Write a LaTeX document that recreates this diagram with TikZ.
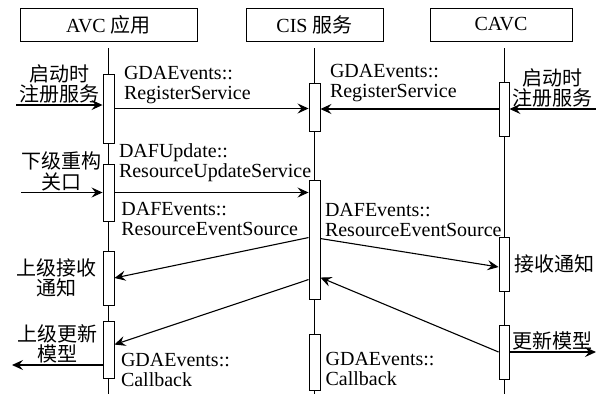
\documentclass[tikz,border=0pt]{standalone}
\usepackage{fontspec}
\setmainfont{Liberation Serif}
\newfontfamily\cjk{Noto Sans CJK SC}
\usetikzlibrary{positioning, arrows.meta}

\begin{document}
\begin{tikzpicture}[
  x=1pt, y=-1pt,
  every node/.style={font=\fontsize{20}{20}\selectfont},
  head/.style={rectangle, draw, line width=0.9pt, minimum height=33pt, inner sep=0pt},
  act/.style={rectangle, draw, fill=white, line width=0.9pt, minimum width=11pt, inner sep=0pt},
  life/.style={line width=0.9pt},
  msg/.style={-{Stealth[length=11pt, width=10pt, inset=4pt]}, line width=1.1pt},
  lab/.style={inner sep=1pt, align=left},
  note/.style={inner sep=1pt, align=center, font=\fontsize{20}{20.5}\selectfont\cjk},
]
\useasboundingbox (0,0) rectangle (596,394);

% participants
\node[head, minimum width=177pt] (avc) at (108.5,24.5) {AVC {\cjk 应用}};
\node[head, minimum width=137pt] (cis) at (314.5,24.5) {CIS {\cjk 服务}};
\node[head, minimum width=142pt] (cavc) at (501,24.5) {CAVC};

% lifelines
\coordinate (avcTop) at (108.5,48);
\coordinate (avcEnd) at (108.5,394);
\coordinate (cisTop) at (314.5,48);
\coordinate (cisEnd) at (314.5,394);
\coordinate (cavcTop) at (504,48);
\coordinate (cavcEnd) at (504,394);
\draw[life] (avcTop) -- (avcEnd);
\draw[life] (cisTop) -- (cisEnd);
\draw[life] (cavcTop) -- (cavcEnd);

% activation boxes
\node[act, minimum height=69pt] (a1) at (108.5,108.5) {};
\node[act, minimum height=57pt] (a2) at (108.5,192.5) {};
\node[act, minimum height=54pt] (a3) at (108.5,278) {};
\node[act, minimum height=57pt] (a4) at (108.5,349.5) {};
\node[act, minimum height=48pt] (c1) at (314.5,107) {};
\node[act, minimum height=119pt] (c2) at (314.5,239.5) {};
\node[act, minimum height=56pt] (c3) at (314.5,362) {};
\node[act, minimum width=10pt, minimum height=54pt] (v1) at (504,109) {};
\node[act, minimum width=10pt, minimum height=54pt] (v2) at (504,264) {};
\node[act, minimum width=10pt, minimum height=54pt] (v3) at (504,352) {};

% free ends
\coordinate (inA1) at (16,105);
\coordinate (inV1) at (596,109);
\coordinate (inA2) at (21,192.5);
\coordinate (outA4) at (12,365);
\coordinate (outV3) at (596,352);

% registration
\draw[msg] (inA1) -- node[note, above] (n1) {启动时\\注册服务} (inA1 -| a1.west);
\draw[msg] (a1.east) -- node[lab, pos=0, anchor=south west, xshift=8pt, yshift=3pt] (m1) {GDAEvents::\\RegisterService} (a1.east -| c1.west);
\draw[msg] (v1.west) -- node[lab, pos=1, anchor=south west, xshift=8pt, yshift=6pt] (m2) {GDAEvents::\\RegisterService} (v1.west -| c1.east);
\draw[msg] (inV1) -- node[note, above] (n2) {启动时\\注册服务} (inV1 -| v1.east);

% resource update
\draw[msg] (inA2) -- node[note, above] (n3) {下级重构\\关口} (inA2 -| a2.west);
\draw[msg] (a2.east) -- node[lab, pos=0, anchor=south west, xshift=3pt, yshift=9pt] (m3) {DAFUpdate::\\ResourceUpdateService} (a2.east -| c2.west);

% event source notifications
\draw[msg] ([yshift=-58pt]c2.north west) -- node[lab, pos=0, anchor=south east, xshift=-9pt] (m4) {DAFEvents::\\ResourceEventSource} (a3.east);
\draw[msg] ([yshift=-59pt]c2.north east) -- node[lab, pos=0, anchor=south west, xshift=3pt] (m5) {DAFEvents::\\ResourceEventSource} ([yshift=-3pt]v2.west);
\node[note, left=5pt of a3] (n4) {上级接收\\通知};
\node[note, right=4pt of v2] (n7) {接收通知};

% model update callbacks
\draw[msg] (v3.west) -- ([yshift=-98pt]c2.north east);
\draw[msg] ([yshift=-100pt]c2.north west) -- node[lab, pos=1, anchor=north west, xshift=5pt, yshift=-7pt] (m6) {GDAEvents::\\Callback} ([yshift=-24pt]a4.north east);
\draw[msg] (outA4 -| a4.west) -- node[note, above] (n5) {上级更新\\模型} (outA4);
\draw[msg] (v3.east) -- node[note, above] (n6) {更新模型} (outV3);
\node[lab, anchor=north west] (m7) at ([xshift=4pt, yshift=-17pt]c3.north east) {GDAEvents::\\Callback};

\end{tikzpicture}
\end{document}
